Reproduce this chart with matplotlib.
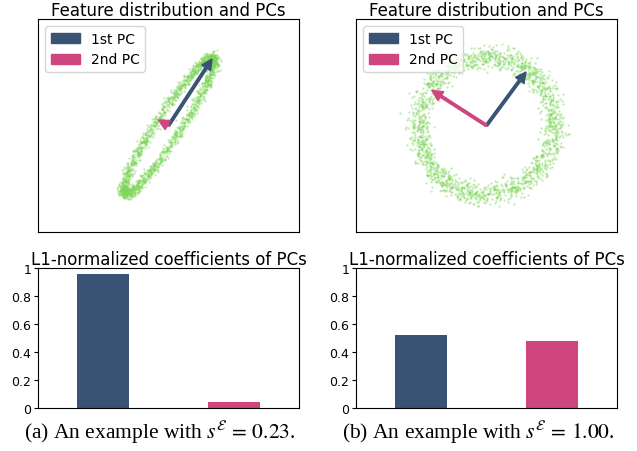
import numpy as np
import matplotlib
matplotlib.use("Agg")
import matplotlib.pyplot as plt
from matplotlib.patches import Patch

# ---- data ----
pc_labels = ["1st PC", "2nd PC"]
coef_a = [0.96, 0.04]          # L1-normalized coefficients, example (a)
coef_b = [0.52, 0.48]          # L1-normalized coefficients, example (b)
pc_vec_a = [(0.87, 1.33), (-0.20, 0.11)]   # PC arrows, example (a)
pc_vec_b = [(0.79, 1.07), (-1.09, 0.70)]   # PC arrows, example (b)
# ring parameters: (semi-major, semi-minor, angle deg, noise sd)
ring_a = (1.62, 0.25, 56.9, 0.05)
ring_b = (1.38, 1.34, 53.0, 0.11)
n_points = 1800
captions = [r"(a) An example with $s^{\mathcal{E}}\,=\,0.23$.",
            r"(b) An example with $s^{\mathcal{E}}\,=\,1.00$."]
ytick_vals = [0, 0.2, 0.4, 0.6, 0.8, 1.0]
ytick_labels = ["0", "0.2", "0.4", "0.6", "0.8", "1"]

c_blue = "#3a5274"
c_pink = "#cf4580"
c_green = "#7fd65a"

plt.rcParams["font.family"] = ["DejaVu Sans"]
plt.rcParams["mathtext.fontset"] = "stix"

fig = plt.figure(figsize=(6.37, 4.52), dpi=100)

W = 0.4097
lefts = [38 / 637, 356 / 637]
top_ax = [fig.add_axes([l, 1 - 233 / 452, W, (233 - 20) / 452]) for l in lefts]
bot_ax = [fig.add_axes([l, 1 - 409 / 452, W, (409 - 269) / 452]) for l in lefts]

rng = np.random.default_rng(3)

def ring(params):
    a, b, ang, sd = params
    t = rng.uniform(0, 2 * np.pi, n_points)
    u = a * np.cos(t) + rng.normal(0, sd, n_points)
    v = b * np.sin(t) + rng.normal(0, sd, n_points)
    th = np.deg2rad(ang)
    x = u * np.cos(th) - v * np.sin(th)
    y = u * np.sin(th) + v * np.cos(th)
    return x, y

for ax, rp, vecs in zip(top_ax, [ring_a, ring_b], [pc_vec_a, pc_vec_b]):
    x, y = ring(rp)
    ax.scatter(x, y, s=2.5, color=c_green, alpha=0.5, linewidths=0)
    for (dx, dy), col in zip(vecs, [c_blue, c_pink]):
        ax.arrow(0, 0, dx, dy, width=0.05, head_width=0.21, head_length=0.21,
                 length_includes_head=True, color=col, zorder=3)
    ax.set_xlim(-2.61, 2.61)
    ax.set_ylim(-2.13, 2.13)
    ax.set_xticks([])
    ax.set_yticks([])
    ax.set_title("Feature distribution and PCs", fontsize=12, pad=3)
    handles = [Patch(color=c_blue, label=pc_labels[0]),
               Patch(color=c_pink, label=pc_labels[1])]
    ax.legend(handles=handles, loc="upper left", fontsize=10,
              handlelength=2.1, handleheight=0.75, borderaxespad=0.5)

for ax, vals in zip(bot_ax, [coef_a, coef_b]):
    ax.bar([0, 1], vals, width=0.4, color=[c_blue, c_pink])
    ax.set_xlim(-0.5, 1.5)
    ax.set_ylim(0, 1)
    ax.set_xticks([])
    ax.set_yticks(ytick_vals)
    ax.set_yticklabels(ytick_labels)
    ax.tick_params(axis="y", labelsize=9, length=3, pad=2)
    ax.set_title("L1-normalized coefficients of PCs", fontsize=12, pad=3)

for cx, cap in zip([160 / 637, 478.5 / 637], captions):
    fig.text(cx, 1 - 432 / 452, cap, ha="center", va="center",
             fontsize=15.5, family=["Liberation Serif", "DejaVu Serif"])

fig.savefig("out.png", dpi=100)
